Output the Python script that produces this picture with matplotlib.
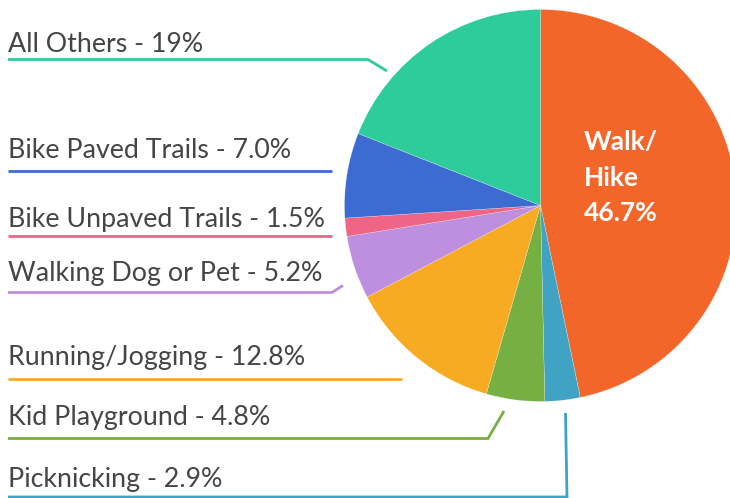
import matplotlib
matplotlib.use("Agg")
import matplotlib.pyplot as plt

# data (clockwise from 12 o'clock)
categories = ["Walk/Hike", "Picknicking", "Kid Playground", "Running/Jogging",
              "Walking Dog or Pet", "Bike Unpaved Trails", "Bike Paved Trails", "All Others"]
shares = [46.7, 2.9, 4.8, 12.8, 5.2, 1.5, 7.0, 19.0]
decimals = [1, 1, 1, 1, 1, 1, 1, 0]
colors = ["#F26729", "#41A3C3", "#76B043", "#F6AB22",
          "#BE8FDF", "#EF6585", "#3C6BD1", "#2ECC9A"]

W, H = 730, 498
plt.rcParams['font.family'] = ['Lato', 'DejaVu Sans']

fig = plt.figure(figsize=(W / 100, H / 100), dpi=100)

# pie axes, placed in pixels
cx, cy, r = 540.5, 205.5, 196
ax_pie = fig.add_axes([(cx - r) / W, (H - cy - r) / H, 2 * r / W, 2 * r / H])
ax_pie.pie(shares, colors=colors, startangle=90, counterclock=False,
           wedgeprops=dict(linewidth=0.25, edgecolor=(1, 1, 1, 0.6)))
ax_pie.set_xlim(-1, 1)
ax_pie.set_ylim(-1, 1)
ax_pie.set_aspect('auto')
ax_pie.axis('off')
for p in ax_pie.patches:
    p.set_clip_on(False)

# overlay in pixel coordinates (y down)
ax = fig.add_axes([0, 0, 1, 1])
ax.set_xlim(0, W)
ax.set_ylim(H, 0)
ax.axis('off')

# label layout: text baseline, underline + leader points
layout = {
    "All Others":          (52, [(8, 59.5), (368, 59.5), (387, 71)]),
    "Bike Paved Trails":   (158, [(8, 170.5), (332, 170.5)]),
    "Bike Unpaved Trails": (226.5, [(8, 235.5), (332, 235.5)]),
    "Walking Dog or Pet":  (281, [(8, 292.5), (332, 292.5), (343, 285.5)]),
    "Running/Jogging":     (365, [(8, 378.5), (402, 378.5)]),
    "Kid Playground":      (425, [(8, 438.5), (488, 438.5), (504, 411)]),
    "Picknicking":         (487, [(8, 497), (567, 497), (565.5, 413)]),
}

for name, val, dec, col in zip(categories, shares, decimals, colors):
    if name not in layout:
        continue
    base, pts = layout[name]
    ax.text(8.5, base, f"{name} - {val:.{dec}f}%", fontsize=19.3, color="#454545",
            ha='left', va='baseline')
    xs, ys = zip(*pts)
    ax.plot(xs, ys, color=col, lw=2.0, solid_capstyle='butt', solid_joinstyle='miter')

# label inside the big slice
big = dict(fontsize=19, fontweight='bold', color="white", ha='left', va='center')
ax.text(584, 142, "Walk/", **big)
ax.text(584, 178, "Hike", **big)
ax.text(584, 213, f"{shares[0]:.1f}%", **big)

fig.savefig("out.png", dpi=100)
